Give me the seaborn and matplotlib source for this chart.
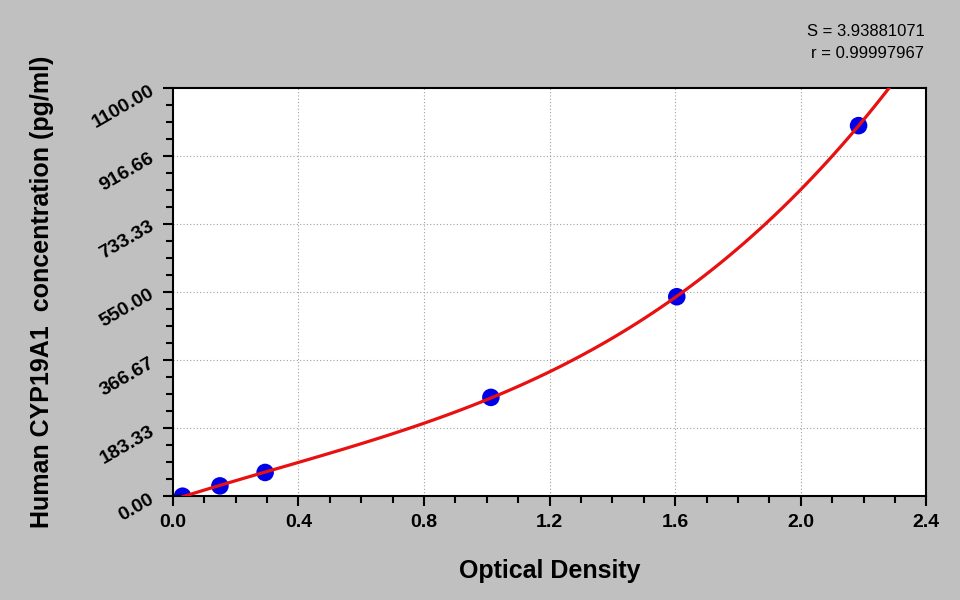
import numpy as np
import pandas as pd
import matplotlib
matplotlib.use("Agg")
import matplotlib.pyplot as plt
import seaborn as sns

# Standards
od = [0.031, 0.150, 0.294, 1.013, 1.605, 2.184]
conc = [0.0, 27.8, 63.9, 266.0, 537.0, 997.6]

x_ticks = [0.0, 0.4, 0.8, 1.2, 1.6, 2.0, 2.4]
x_labels = ["0.0", "0.4", "0.8", "1.2", "1.6", "2.0", "2.4"]
y_ticks = [0.0, 183.33, 366.67, 550.0, 733.33, 916.66, 1100.0]
y_labels = ["0.00", "183.33", "366.67", "550.00", "733.33", "916.66", "1100.00"]

stat_s = "S = 3.93881071"
stat_r = "r = 0.99997967"

df = pd.DataFrame({"od": od, "conc": conc})

sns.set_style("ticks")
plt.rcParams["font.family"] = ["Liberation Sans", "DejaVu Sans"]
plt.rcParams["text.color"] = "black"
plt.rcParams["axes.labelcolor"] = "black"
plt.rcParams["xtick.color"] = "black"
plt.rcParams["ytick.color"] = "black"

bg = "#c0c0c0"
fig = plt.figure(figsize=(9.6, 6), dpi=100, facecolor=bg)
ax = fig.add_axes([0.180, 0.173, 0.785, 0.681])
ax.set_facecolor("white")
ax.set_xlim(0, 2.4)
ax.set_ylim(0, 1100)

# grid
for t in x_ticks[1:-1]:
    ax.axvline(t, color="#a0a0a0", lw=0.8, ls=(0, (1, 2)), zorder=0)
for t in y_ticks[1:-1]:
    ax.axhline(t, color="#a0a0a0", lw=0.8, ls=(0, (1, 2)), zorder=0)

sns.scatterplot(data=df, x="od", y="conc", ax=ax, s=160, color="#0000e6",
                edgecolor="none", zorder=2, legend=False)
sns.regplot(data=df, x="od", y="conc", ax=ax, order=3, ci=None, scatter=False,
            truncate=False, line_kws={"color": "#e81010", "lw": 2.3, "zorder": 3})

ax.set_xlim(0, 2.4)
ax.set_ylim(0, 1100)
ax.set_xticks(x_ticks)
ax.set_xticklabels(x_labels, fontsize=14, fontweight="bold", color="black")
ax.set_yticks(y_ticks)
ax.set_yticklabels(y_labels, fontsize=14, fontweight="bold", rotation=30,
                   ha="right", rotation_mode="anchor", color="black")
ax.set_xticks(np.arange(0, 2.41, 0.1), minor=True)
ax.set_yticks(np.arange(0, 1100.1, 1100 / 24), minor=True)
ax.tick_params(which="major", direction="out", length=7, width=1.5, color="black", pad=6)
ax.tick_params(which="minor", direction="out", length=5, width=1.5, color="black")
ax.tick_params(axis="y", which="major", pad=8)

for sp in ax.spines.values():
    sp.set_color("black")
    sp.set_linewidth(1.5)
    sp.set_visible(True)

ax.set_xlabel("Optical Density", fontsize=18, fontweight="bold", labelpad=20,
              color="black")
ax.set_ylabel("Human CYP19A1  concentration (pg/ml)", fontsize=18,
              fontweight="bold", labelpad=25, color="black")

fig.text(0.963, 0.947, stat_s, ha="right", va="center", fontsize=12, color="black")
fig.text(0.963, 0.910, stat_r, ha="right", va="center", fontsize=12, color="black")

fig.savefig("out.png", dpi=100, facecolor=bg)
